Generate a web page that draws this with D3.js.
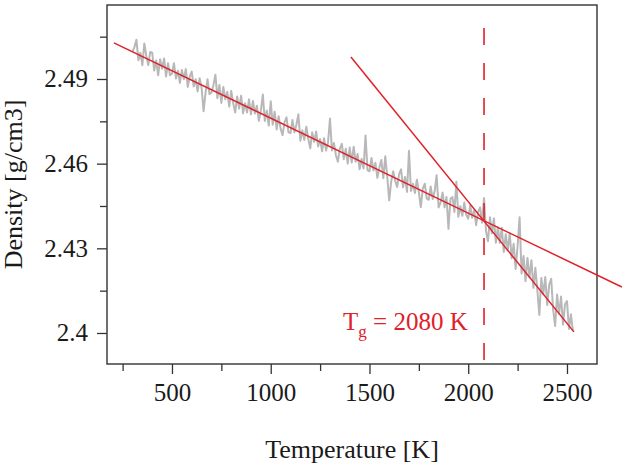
<!DOCTYPE html>
<html lang="en">
<head>
<meta charset="UTF-8">
<title>Density vs Temperature</title>
<script src="https://d3js.org/d3.v7.min.js"></script>
<style>
  body { margin: 0; background: #fff; }
  svg { display: block; font-family: "Liberation Serif", "Times New Roman", serif; }
  .tick text { fill: #1a1a1a; font-size: 25px; }
  .tick line { stroke: #333; stroke-width: 1.3; }
</style>
</head>
<body>
<div id="chart"></div>
<script>
// measured trace (temperature in K, density in g/cm3)
const temps = [
  300, 310, 320, 330, 340, 350, 360, 370, 380, 390,
  400, 410, 420, 430, 440, 450, 460, 470, 480, 490,
  500, 510, 520, 530, 540, 550, 560, 570, 580, 590,
  600, 610, 620, 630, 640, 650, 660, 670, 680, 690,
  700, 710, 720, 730, 740, 750, 760, 770, 780, 790,
  800, 810, 820, 830, 840, 850, 860, 870, 880, 890,
  900, 910, 920, 930, 940, 950, 960, 970, 980, 990,
  1000, 1010, 1020, 1030, 1040, 1050, 1060, 1070, 1080, 1090,
  1100, 1110, 1120, 1130, 1140, 1150, 1160, 1170, 1180, 1190,
  1200, 1210, 1220, 1230, 1240, 1250, 1260, 1270, 1280, 1290,
  1300, 1310, 1320, 1330, 1340, 1350, 1360, 1370, 1380, 1390,
  1400, 1410, 1420, 1430, 1440, 1450, 1460, 1470, 1480, 1490,
  1500, 1510, 1520, 1530, 1540, 1550, 1560, 1570, 1580, 1590,
  1600, 1610, 1620, 1630, 1640, 1650, 1660, 1670, 1680, 1690,
  1700, 1710, 1720, 1730, 1740, 1750, 1760, 1770, 1780, 1790,
  1800, 1810, 1820, 1830, 1840, 1850, 1860, 1870, 1880, 1890,
  1900, 1910, 1920, 1930, 1940, 1950, 1960, 1970, 1980, 1990,
  2000, 2010, 2020, 2030, 2040, 2050, 2060, 2070, 2080, 2090,
  2100, 2110, 2120, 2130, 2140, 2150, 2160, 2170, 2180, 2190,
  2200, 2210, 2220, 2230, 2240, 2250, 2260, 2270, 2280, 2290,
  2300, 2310, 2320, 2330, 2340, 2350, 2360, 2370, 2380, 2390,
  2400, 2410, 2420, 2430, 2440, 2450, 2460, 2470, 2480, 2490,
  2500, 2510, 2520, 2530];
const density = [
  2.4996, 2.5013, 2.5039, 2.4966, 2.4993, 2.4949, 2.5026, 2.4982, 2.4949, 2.4996,
  2.4993, 2.4930, 2.4966, 2.4913, 2.4970, 2.4936, 2.4973, 2.4909, 2.4956, 2.4913,
  2.4919, 2.4956, 2.4902, 2.4929, 2.4886, 2.4932, 2.4899, 2.4935, 2.4872, 2.4909,
  2.4926, 2.4873, 2.4899, 2.4856, 2.4903, 2.4869, 2.4786, 2.4852, 2.4899, 2.4846,
  2.4852, 2.4879, 2.4915, 2.4832, 2.4879, 2.4815, 2.4872, 2.4828, 2.4855, 2.4802,
  2.4858, 2.4815, 2.4781, 2.4838, 2.4795, 2.4841, 2.4778, 2.4814, 2.4781, 2.4828,
  2.4775, 2.4822, 2.4778, 2.4805, 2.4752, 2.4788, 2.4845, 2.4751, 2.4788, 2.4735,
  2.4821, 2.4738, 2.4784, 2.4721, 2.4768, 2.4724, 2.4701, 2.4747, 2.4764, 2.4711,
  2.4708, 2.4755, 2.4711, 2.4738, 2.4775, 2.4681, 2.4718, 2.4684, 2.4731, 2.4688,
  2.4654, 2.4711, 2.4677, 2.4714, 2.4661, 2.4687, 2.4644, 2.4690, 2.4647, 2.4674,
  2.4760, 2.4647, 2.4673, 2.4630, 2.4607, 2.4653, 2.4670, 2.4616, 2.4653, 2.4600,
  2.4657, 2.4604, 2.4660, 2.4607, 2.4634, 2.4580, 2.4617, 2.4583, 2.4700, 2.4577,
  2.4573, 2.4620, 2.4576, 2.4603, 2.4550, 2.4586, 2.4613, 2.4549, 2.4626, 2.4553,
  2.4470, 2.4537, 2.4573, 2.4540, 2.4517, 2.4563, 2.4580, 2.4516, 2.4553, 2.4500,
  2.4646, 2.4503, 2.4529, 2.4496, 2.4543, 2.4499, 2.4446, 2.4512, 2.4529, 2.4476,
  2.4472, 2.4519, 2.4475, 2.4502, 2.4559, 2.4445, 2.4462, 2.4498, 2.4445, 2.4482,
  2.4369, 2.4476, 2.4482, 2.4429, 2.4536, 2.4412, 2.4449, 2.4415, 2.4462, 2.4419,
  2.4405, 2.4452, 2.4408, 2.4435, 2.4382, 2.4428, 2.4445, 2.4391, 2.4478, 2.4361,
  2.4325, 2.4410, 2.4353, 2.4406, 2.4320, 2.4375, 2.4319, 2.4373, 2.4287, 2.4350,
  2.4292, 2.4353, 2.4265, 2.4316, 2.4227, 2.4309, 2.4410, 2.4211, 2.4273, 2.4184,
  2.4266, 2.4197, 2.4258, 2.4160, 2.4231, 2.4152, 2.4064, 2.4195, 2.4137, 2.4198,
  2.4099, 2.4171, 2.4192, 2.4083, 2.4025, 2.4136, 2.4068, 2.4129, 2.4030, 2.4102,
  2.4113, 2.4014, 2.4066, 2.4007];

// linear fits (glass and liquid branches)
const glassFitT = [206, 2778];
const glassFitD = [2.5028, 2.4163];
const liquidFitT = [1406, 2535];
const liquidFitD = [2.4978, 2.4004];

const tg = 2080;
const xTicks = [500, 1000, 1500, 2000, 2500];
const xMinor = [250, 750, 1250, 1750, 2250];
const yTicks = [2.4, 2.43, 2.46, 2.49];
const yMinor = [2.415, 2.445, 2.475, 2.505];

const width = 627, height = 467;
const plot = { left: 107, top: 5, right: 597, bottom: 364 };
const red = "#e0202a";

const svg = d3.select("#chart").append("svg")
  .attr("width", width)
  .attr("height", height);

const x = d3.scaleLinear().domain([171, 2652]).range([plot.left, plot.right]);
const y = d3.scaleLinear().domain([2.38901, 2.51622]).range([plot.bottom, plot.top]);

// axes
svg.append("g")
  .attr("transform", `translate(0,${plot.bottom})`)
  .call(d3.axisBottom(x).tickValues(xTicks).tickSize(10).tickPadding(9).tickFormat(d3.format("d")))
  .call(g => g.select(".domain").remove());
svg.append("g")
  .attr("transform", `translate(0,${plot.bottom})`)
  .call(d3.axisBottom(x).tickValues(xMinor).tickSize(7).tickFormat(""))
  .call(g => g.select(".domain").remove());

svg.append("g")
  .attr("transform", `translate(${plot.left},0)`)
  .call(d3.axisLeft(y).tickValues(yTicks).tickSize(10).tickPadding(9).tickFormat(d => d3.format("")(+d.toFixed(2))))
  .call(g => g.select(".domain").remove());
svg.append("g")
  .attr("transform", `translate(${plot.left},0)`)
  .call(d3.axisLeft(y).tickValues(yMinor).tickSize(7).tickFormat(""))
  .call(g => g.select(".domain").remove());

svg.selectAll(".tick text").style("font-family", "Liberation Serif, Times New Roman, serif");

// frame
svg.append("rect")
  .attr("x", plot.left)
  .attr("y", plot.top)
  .attr("width", plot.right - plot.left)
  .attr("height", plot.bottom - plot.top)
  .attr("fill", "none")
  .attr("stroke", "#333")
  .attr("stroke-width", 1.4);

// trace
const line = d3.line().x(d => x(d[0])).y(d => y(d[1]));
svg.append("path")
  .datum(temps.map((t, i) => [t, density[i]]))
  .attr("d", line)
  .attr("fill", "none")
  .attr("stroke", "#b8b8b8")
  .attr("stroke-width", 2)
  .attr("stroke-linejoin", "round");

// fits
[[glassFitT, glassFitD], [liquidFitT, liquidFitD]].forEach(([ts, ds]) => {
  svg.append("path")
    .datum(ts.map((t, i) => [t, ds[i]]))
    .attr("d", line)
    .attr("fill", "none")
    .attr("stroke", red)
    .attr("stroke-width", 1.5);
});

// Tg marker
svg.append("line")
  .attr("x1", x(tg)).attr("x2", x(tg))
  .attr("y1", y(2.5081)).attr("y2", plot.bottom)
  .attr("stroke", red)
  .attr("stroke-width", 1.6)
  .attr("stroke-dasharray", "17,18");

const tgLabel = svg.append("text")
  .attr("x", x(tg) - 141)
  .attr("y", y(2.4011))
  .attr("fill", red)
  .attr("font-size", 25);
tgLabel.append("tspan").text("T");
tgLabel.append("tspan").attr("font-size", 17).attr("dy", 7).text("g");
tgLabel.append("tspan").attr("dy", -7).text(" = " + tg + " K");

// axis titles
svg.append("text")
  .attr("x", (plot.left + plot.right) / 2)
  .attr("y", 458)
  .attr("text-anchor", "middle")
  .attr("font-size", 26)
  .attr("fill", "#1a1a1a")
  .text("Temperature [K]");

svg.append("text")
  .attr("transform", `translate(22,${(plot.top + plot.bottom) / 2}) rotate(-90)`)
  .attr("text-anchor", "middle")
  .attr("font-size", 26)
  .attr("fill", "#1a1a1a")
  .text("Density [g/cm3]");
</script>
</body>
</html>
